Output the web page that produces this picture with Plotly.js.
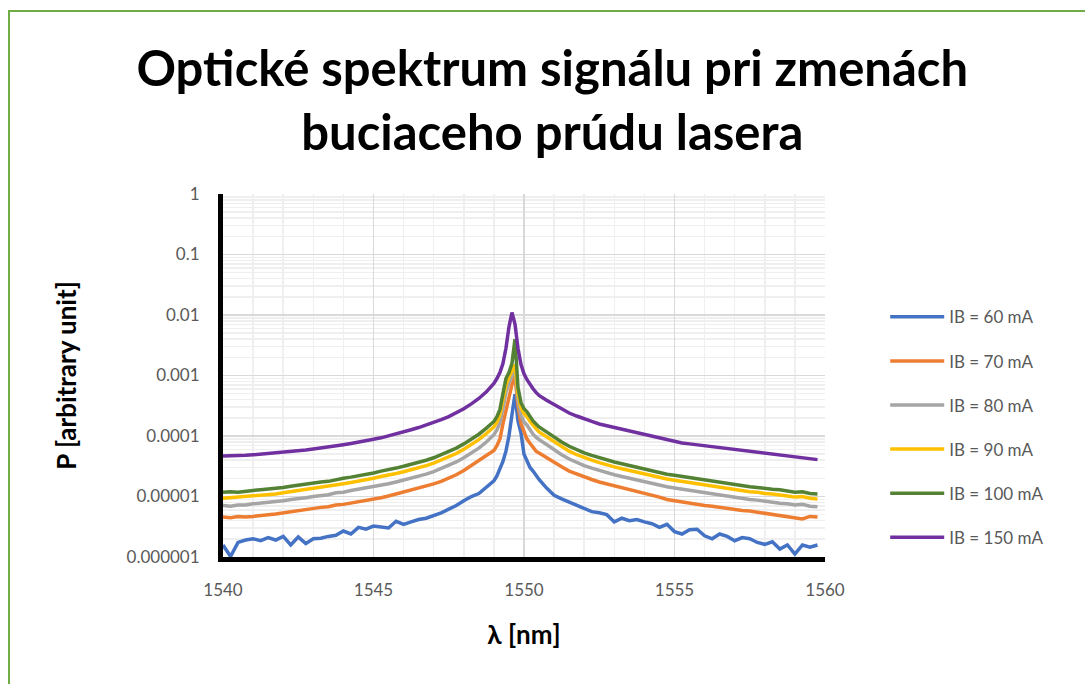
<!DOCTYPE html>
<html>
<head>
<meta charset="utf-8">
<script src="https://cdn.plot.ly/plotly-3.0.1.min.js"></script>
<style>
  html, body { margin: 0; padding: 0; background: #ffffff; }
  #chart { position: absolute; left: 0; top: 0; width: 1085px; height: 684px; }
  #frame { position: absolute; left: 8px; top: 10px; width: 1100px; height: 700px;
           border: 2px solid #70AD47; pointer-events: none; box-sizing: border-box; }
</style>
</head>
<body>
<div id="chart"></div>
<div id="frame"></div>
<script>
// Wavelength grid [nm]
const wavelength = [
  1540.00,1540.25,1540.50,1540.75,1541.00,1541.25,1541.50,1541.75,1542.00,1542.25,
  1542.50,1542.75,1543.00,1543.25,1543.50,1543.75,1544.00,1544.25,1544.50,1544.75,
  1545.00,1545.25,1545.50,1545.75,1546.00,1546.25,1546.50,1546.75,1547.00,1547.25,
  1547.50,1547.75,1548.00,1548.25,1548.50,1548.75,
  1549.0,1549.1,1549.2,1549.3,1549.4,1549.5,1549.6,1549.7,1549.8,1549.9,
  1550.0,1550.1,1550.2,1550.3,1550.4,
  1550.50,1550.75,1551.00,1551.25,1551.50,1551.75,1552.00,1552.25,1552.50,1552.75,
  1553.00,1553.25,1553.50,1553.75,1554.00,1554.25,1554.50,1554.75,1555.00,1555.25,
  1555.50,1555.75,1556.00,1556.25,1556.50,1556.75,1557.00,1557.25,1557.50,1557.75,
  1558.00,1558.25,1558.50,1558.75,1559.00,1559.25,1559.50,1559.75
];

const ib60 = [
  1.58e-6,1.02e-6,1.74e-6,1.91e-6,2.00e-6,1.86e-6,2.09e-6,1.91e-6,2.19e-6,1.58e-6,
  2.14e-6,1.66e-6,2.00e-6,2.04e-6,2.19e-6,2.29e-6,2.69e-6,2.40e-6,3.09e-6,2.88e-6,
  3.24e-6,3.09e-6,3.02e-6,3.89e-6,3.47e-6,3.80e-6,4.17e-6,4.37e-6,4.79e-6,5.37e-6,
  6.17e-6,7.08e-6,8.51e-6,1.00e-5,1.12e-5,1.41e-5,
  1.82e-5,2.19e-5,2.82e-5,3.80e-5,5.62e-5,1.00e-4,2.24e-4,4.90e-4,1.78e-4,1.12e-4,
  5.01e-5,3.80e-5,3.02e-5,2.63e-5,2.24e-5,
  1.91e-5,1.38e-5,1.05e-5,9.12e-6,8.13e-6,7.24e-6,6.31e-6,5.62e-6,5.37e-6,5.01e-6,
  3.80e-6,4.37e-6,3.98e-6,4.17e-6,3.80e-6,3.55e-6,3.09e-6,3.47e-6,2.63e-6,2.40e-6,
  2.82e-6,2.88e-6,2.24e-6,2.00e-6,2.40e-6,2.19e-6,1.86e-6,2.09e-6,2.00e-6,1.74e-6,
  1.62e-6,1.78e-6,1.35e-6,1.58e-6,1.12e-6,1.58e-6,1.45e-6,1.58e-6
];

const ib70 = [
  4.57e-6,4.47e-6,4.68e-6,4.57e-6,4.68e-6,4.90e-6,5.01e-6,5.13e-6,5.37e-6,5.50e-6,
  5.75e-6,6.03e-6,6.31e-6,6.61e-6,6.76e-6,7.24e-6,7.41e-6,7.76e-6,8.13e-6,8.51e-6,
  9.12e-6,9.55e-6,1.02e-5,1.10e-5,1.18e-5,1.26e-5,1.38e-5,1.48e-5,1.62e-5,1.78e-5,
  2.00e-5,2.29e-5,2.69e-5,3.24e-5,3.89e-5,4.68e-5,
  5.75e-5,6.92e-5,8.91e-5,1.58e-4,2.51e-4,4.17e-4,7.08e-4,9.55e-4,3.16e-4,1.58e-4,
  1.17e-4,8.91e-5,7.59e-5,6.61e-5,5.62e-5,
  5.25e-5,4.37e-5,3.63e-5,3.09e-5,2.63e-5,2.34e-5,2.09e-5,1.91e-5,1.74e-5,1.62e-5,
  1.51e-5,1.41e-5,1.32e-5,1.20e-5,1.15e-5,1.05e-5,9.77e-6,8.91e-6,8.51e-6,7.94e-6,
  7.76e-6,7.41e-6,7.08e-6,6.92e-6,6.61e-6,6.31e-6,6.17e-6,5.89e-6,5.75e-6,5.50e-6,
  5.25e-6,5.13e-6,4.90e-6,4.68e-6,4.47e-6,4.27e-6,4.68e-6,4.57e-6
];

const ib80 = [
  7.08e-6,6.92e-6,7.24e-6,7.24e-6,7.59e-6,7.76e-6,7.94e-6,8.13e-6,8.51e-6,8.91e-6,
  9.12e-6,9.55e-6,1.00e-5,1.02e-5,1.07e-5,1.15e-5,1.18e-5,1.26e-5,1.32e-5,1.38e-5,
  1.45e-5,1.55e-5,1.62e-5,1.74e-5,1.86e-5,2.00e-5,2.19e-5,2.34e-5,2.57e-5,2.88e-5,
  3.24e-5,3.72e-5,4.37e-5,5.25e-5,6.31e-5,7.94e-5,
  1.05e-4,1.26e-4,1.66e-4,2.82e-4,5.25e-4,7.59e-4,1.00e-3,1.20e-3,3.98e-4,2.19e-4,
  1.70e-4,1.51e-4,1.26e-4,1.07e-4,9.55e-5,
  8.71e-5,7.24e-5,5.89e-5,4.90e-5,4.17e-5,3.63e-5,3.24e-5,2.95e-5,2.69e-5,2.45e-5,
  2.29e-5,2.14e-5,2.00e-5,1.86e-5,1.74e-5,1.62e-5,1.55e-5,1.45e-5,1.38e-5,1.32e-5,
  1.26e-5,1.20e-5,1.15e-5,1.10e-5,1.05e-5,1.00e-5,9.77e-6,9.33e-6,8.91e-6,8.71e-6,
  8.32e-6,8.13e-6,7.76e-6,7.59e-6,7.24e-6,7.41e-6,6.92e-6,6.76e-6
];

const ib90 = [
  9.33e-6,9.55e-6,9.77e-6,9.77e-6,1.02e-5,1.05e-5,1.07e-5,1.10e-5,1.15e-5,1.20e-5,
  1.23e-5,1.29e-5,1.35e-5,1.38e-5,1.45e-5,1.55e-5,1.62e-5,1.70e-5,1.78e-5,1.91e-5,
  2.00e-5,2.14e-5,2.24e-5,2.40e-5,2.57e-5,2.75e-5,3.02e-5,3.24e-5,3.55e-5,3.98e-5,
  4.47e-5,5.13e-5,6.03e-5,7.24e-5,8.71e-5,1.10e-4,
  1.41e-4,1.70e-4,2.24e-4,3.98e-4,7.08e-4,9.33e-4,1.20e-3,1.51e-3,5.01e-4,2.95e-4,
  2.34e-4,2.09e-4,1.74e-4,1.48e-4,1.32e-4,
  1.17e-4,9.77e-5,7.94e-5,6.61e-5,5.62e-5,4.90e-5,4.37e-5,3.98e-5,3.63e-5,3.31e-5,
  3.09e-5,2.88e-5,2.69e-5,2.51e-5,2.34e-5,2.19e-5,2.09e-5,1.95e-5,1.86e-5,1.78e-5,
  1.70e-5,1.62e-5,1.55e-5,1.48e-5,1.41e-5,1.35e-5,1.32e-5,1.23e-5,1.20e-5,1.18e-5,
  1.12e-5,1.10e-5,1.07e-5,1.02e-5,9.77e-6,1.00e-5,9.33e-6,9.12e-6
];

const ib100 = [
  1.18e-5,1.20e-5,1.18e-5,1.23e-5,1.26e-5,1.29e-5,1.32e-5,1.38e-5,1.41e-5,1.48e-5,
  1.55e-5,1.58e-5,1.66e-5,1.74e-5,1.78e-5,1.91e-5,2.00e-5,2.09e-5,2.19e-5,2.34e-5,
  2.45e-5,2.63e-5,2.75e-5,2.95e-5,3.16e-5,3.39e-5,3.72e-5,3.98e-5,4.37e-5,4.90e-5,
  5.50e-5,6.31e-5,7.41e-5,8.91e-5,1.07e-4,1.35e-4,
  1.74e-4,2.09e-4,2.75e-4,5.01e-4,8.91e-4,1.12e-3,1.58e-3,3.98e-3,6.31e-4,3.55e-4,
  2.82e-4,2.51e-4,2.09e-4,1.78e-4,1.58e-4,
  1.41e-4,1.17e-4,9.55e-5,7.94e-5,6.76e-5,5.89e-5,5.25e-5,4.79e-5,4.37e-5,3.98e-5,
  3.72e-5,3.47e-5,3.24e-5,3.02e-5,2.82e-5,2.63e-5,2.51e-5,2.34e-5,2.24e-5,2.14e-5,
  2.04e-5,1.95e-5,1.86e-5,1.78e-5,1.70e-5,1.62e-5,1.58e-5,1.48e-5,1.45e-5,1.41e-5,
  1.35e-5,1.32e-5,1.29e-5,1.23e-5,1.18e-5,1.20e-5,1.12e-5,1.10e-5
];

const ib150 = [
  4.68e-5,4.68e-5,4.79e-5,4.79e-5,4.90e-5,5.01e-5,5.13e-5,5.25e-5,5.37e-5,5.50e-5,
  5.69e-5,5.89e-5,6.10e-5,6.31e-5,6.53e-5,6.84e-5,7.16e-5,7.50e-5,7.85e-5,8.32e-5,
  8.81e-5,9.33e-5,1.00e-4,1.08e-4,1.17e-4,1.27e-4,1.38e-4,1.51e-4,1.66e-4,1.86e-4,
  2.09e-4,2.40e-4,2.82e-4,3.39e-4,4.17e-4,5.37e-4,
  7.41e-4,8.91e-4,1.12e-3,1.58e-3,2.82e-3,6.31e-3,1.10e-2,7.08e-3,2.82e-3,1.51e-3,
  1.07e-3,8.51e-4,7.08e-4,6.03e-4,5.25e-4,
  4.68e-4,3.89e-4,3.31e-4,2.82e-4,2.40e-4,2.14e-4,1.91e-4,1.74e-4,1.58e-4,1.48e-4,
  1.38e-4,1.29e-4,1.20e-4,1.12e-4,1.05e-4,9.77e-5,9.12e-5,8.51e-5,7.94e-5,7.67e-5,
  7.41e-5,7.16e-5,6.92e-5,6.61e-5,6.31e-5,6.10e-5,5.89e-5,5.69e-5,5.50e-5,5.31e-5,
  5.13e-5,5.01e-5,4.79e-5,4.68e-5,4.52e-5,4.37e-5,4.22e-5,4.07e-5
];

const seriesNames = ['IB = 60 mA','IB = 70 mA','IB = 80 mA','IB = 90 mA','IB = 100 mA','IB = 150 mA'];
const seriesData = [ib60, ib70, ib80, ib90, ib100, ib150];
const seriesColors = ['#4472C4','#ED7D31','#A5A5A5','#FFC000','#548235','#7030A0'];

const yTickVals = [1, 0.1, 0.01, 0.001, 0.0001, 0.00001, 0.000001];
const yTickText = ['1','0.1','0.01','0.001','0.0001','0.00001','0.000001'];
const xTickVals = [1540, 1545, 1550, 1555, 1560];

const FONT = 'Lato, "Open Sans", sans-serif';

const traces = seriesData.map((vals, i) => ({
  type: 'scatter',
  mode: 'lines',
  x: wavelength,
  y: vals,
  name: seriesNames[i],
  legendgroup: 'g' + i,
  line: { color: seriesColors[i], width: 3.5 },
  hoverinfo: 'skip'
}));

const layout = {
  width: 1085,
  height: 684,
  paper_bgcolor: '#ffffff',
  plot_bgcolor: '#ffffff',
  margin: { l: 223, r: 260, t: 194, b: 127 },
  font: { family: FONT, color: '#595959', size: 17 },
  title: {
    text: '<b>Optické spektrum signálu pri zmenách<br>buciaceho prúdu lasera</b>',
    font: { family: FONT, size: 49, color: '#000000' },
    x: 0.509, xanchor: 'center',
    xref: 'container', yref: 'container',
    y: 0.874, yanchor: 'top'
  },
  xaxis: {
    range: [1540, 1560],
    tickvals: xTickVals,
    ticks: '',
    showline: true, linecolor: '#000000', linewidth: 5,
    showgrid: true, gridcolor: '#d9d9d9', gridwidth: 1.5,
    zeroline: false,
    minor: { dtick: 1, showgrid: true, gridcolor: '#efefef', gridwidth: 1.5, ticks: '' },
    tickfont: { family: FONT, size: 17, color: '#595959' },
    ticklabelstandoff: 14,
    title: { text: '<b>λ [nm]</b>', font: { family: FONT, size: 26, color: '#000000' }, standoff: 28 },
    mirror: false
  },
  yaxis: {
    type: 'log',
    range: [-6, 0],
    tickvals: yTickVals,
    ticktext: yTickText,
    ticks: '',
    showline: true, linecolor: '#000000', linewidth: 5,
    showgrid: true, gridcolor: '#d9d9d9', gridwidth: 1.5,
    zeroline: false,
    minor: { dtick: 'D1', showgrid: true, gridcolor: '#efefef', gridwidth: 1.5, ticks: '' },
    tickfont: { family: FONT, size: 17, color: '#595959' },
    ticklabelstandoff: 15,
    title: { text: '<b>P [arbitrary unit]</b>', font: { family: FONT, size: 26, color: '#000000' }, standoff: 44 }
  },
  showlegend: true,
  legend: {
    x: 1.10, xanchor: 'left',
    y: 0.71, yanchor: 'top',
    font: { family: FONT, size: 17, color: '#595959' },
    bgcolor: 'rgba(0,0,0,0)',
    tracegroupgap: 19,
    itemwidth: 54,
    traceorder: 'grouped'
  }
};

Plotly.newPlot('chart', traces, layout, { staticPlot: true, displayModeBar: false });
</script>
</body>
</html>
